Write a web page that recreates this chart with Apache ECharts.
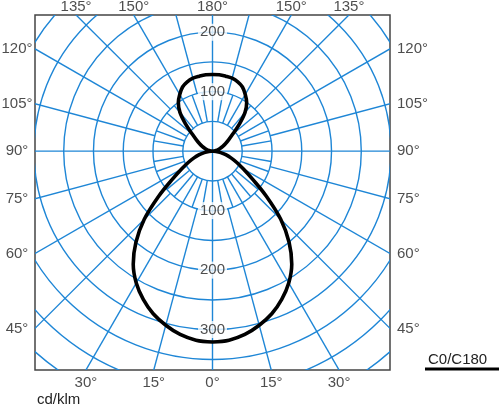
<!DOCTYPE html>
<html><head><meta charset="utf-8">
<script src="https://cdn.jsdelivr.net/npm/echarts@6/dist/echarts.min.js"></script>
<style>html,body{margin:0;padding:0;background:#fff}#c{width:500px;height:406px}</style>
</head><body><div id="c"></div>
<script>
// ---- data ----
const gammaAngles = [0,5,10,15,20,25,30,35,40,45,50,55,60,65,70,75,80,85,90,95,100,105,110,115,120,125,130,135,140,145,150,155,160,165,170,175,180];
const intensityC0C180 = [321,319,313,303,291,275,256,232,200,162,118,82,60,45,33,23,14,6,0,3,6,10,14,19,25,33,44,63,85,100,110,119,124,127,128,129,129];
const ringValues = [50,100,150,200,250,300,350,400,450,500];
const radiusLabelsUp = [100,200];
const radiusLabelsDown = [100,200,300];
const sideAngleLabels = [150,135,120,105,90,75,60,45,30,15];
const centerAngleLabels = [180,0];
const majorSpokeStep = 15;
const minorSpokeStep = 10;
const innerRing = 50, minorOuter = 100, spokeOuter = 700;
const seriesName = 'C0/C180';
const unitLabel = 'cd/klm';

// ---- extents (data units) ----
const X_MIN = -298, X_MAX = 298, Y_MIN = -368, Y_MAX = 229;
const BLUE = '#1e86d6';

function dir(g, side){ const r = g*Math.PI/180; return [side*Math.sin(r), -Math.cos(r)]; }

// curve: right side 0->180, then left side 180->0
const curve = [];
gammaAngles.forEach((g,i)=>{ const d=dir(g,1); curve.push([d[0]*intensityC0C180[i], d[1]*intensityC0C180[i]]); });
for (let i=gammaAngles.length-1;i>=0;i--){ const d=dir(gammaAngles[i],-1); curve.push([d[0]*intensityC0C180[i], d[1]*intensityC0C180[i]]); }

// spokes [angleDeg clockwise from down, r0, r1]
const spokes = [];
for (let a=0;a<360;a+=majorSpokeStep){ const axisLine = (a%90===0); spokes.push([a, axisLine?0:minorOuter, spokeOuter]); }
for (let a=0;a<360;a+=minorSpokeStep){ if (a%90!==0) spokes.push([a, innerRing, minorOuter]); }

// angle labels on frame
function frameHit(g, side){
  const d = dir(g, side);
  const tX = Math.abs(d[0])>1e-9 ? (d[0]>0 ? X_MAX/d[0] : X_MIN/d[0]) : Infinity;
  const tY = Math.abs(d[1])>1e-9 ? (d[1]>0 ? Y_MAX/d[1] : Y_MIN/d[1]) : Infinity;
  const t = Math.min(tX,tY);
  const edge = tX<tY ? (d[0]>0?'right':'left') : (d[1]>0?'top':'bottom');
  return {value:[d[0]*t, d[1]*t], edge, text: g+'°'};
}
const angleLabelItems = [];
sideAngleLabels.forEach(g=>{ angleLabelItems.push(frameHit(g,-1)); angleLabelItems.push(frameHit(g,1)); });
centerAngleLabels.forEach(g=>angleLabelItems.push(frameHit(g,1)));
const edgeLabel = {
  top:{position:'top',distance:1},
  bottom:{position:'bottom',distance:5},
  left:{position:'left',distance:18,align:'center'},
  right:{position:'right',distance:7}
};

const radiusLabelData = radiusLabelsUp.map(v=>({value:[0,v],name:String(v)}))
  .concat(radiusLabelsDown.map(v=>({value:[0,-v],name:String(v)})));

const chart = echarts.init(document.getElementById('c'));
const FONT = "'Liberation Sans', Arial, sans-serif";
chart.setOption({
  animation:false,
  backgroundColor:'#fff',
  grid:{left:35, top:15, width:355, height:355, show:true, borderColor:'#444', borderWidth:1.5, backgroundColor:'transparent'},
  xAxis:{type:'value', min:X_MIN, max:X_MAX, show:false},
  yAxis:{type:'value', min:Y_MIN, max:Y_MAX, show:false},
  series:[
    { type:'custom', clip:true, z:1, silent:true,
      data: ringValues.map(v=>[v]),
      renderItem:(params, api)=>{
        const c = api.coord([0,0]);
        const s = api.size([api.value(0), api.value(0)]);
        return {type:'circle', shape:{cx:c[0], cy:c[1], r:(s[0]+s[1])/2},
                style:{fill:null, stroke:BLUE, lineWidth:1.4}};
      }
    },
    { type:'custom', clip:true, z:1, silent:true,
      data: spokes,
      renderItem:(params, api)=>{
        const a = api.value(0), r0 = api.value(1), r1 = api.value(2);
        const rad = a*Math.PI/180; const dx = Math.sin(rad), dy = -Math.cos(rad);
        const p0 = api.coord([dx*r0, dy*r0]), p1 = api.coord([dx*r1, dy*r1]);
        return {type:'line', shape:{x1:p0[0], y1:p0[1], x2:p1[0], y2:p1[1]},
                style:{stroke:BLUE, lineWidth:1.4}};
      }
    },
    { type:'scatter', z:3, symbolSize:0, silent:true, clip:false,
      data: radiusLabelData,
      label:{show:true, position:'inside', formatter:p=>p.name, color:'#222', fontSize:15, fontFamily:FONT,
             backgroundColor:'#fff', padding:[1,2]}
    },
    { type:'line', name:seriesName, z:4, data:curve, smooth:0.35, symbol:'none', clip:true,
      lineStyle:{color:'#000', width:3.6, cap:'round', join:'round'} },
    { type:'scatter', z:5, symbolSize:0, silent:true, clip:false,
      data: angleLabelItems.map(it=>({value:it.value, name:it.text,
        label:Object.assign({show:true, formatter:it.text, color:'#222', fontSize:15, fontFamily:FONT}, edgeLabel[it.edge])}))
    }
  ],
  graphic:[
    {type:'text', left:37, top:392, style:{text:unitLabel, fill:'#222', font:"15px 'Liberation Sans', Arial, sans-serif"}},
    {type:'text', left:428, top:352, style:{text:seriesName, fill:'#222', font:"15px 'Liberation Sans', Arial, sans-serif"}},
    {type:'line', shape:{x1:425, y1:369, x2:499, y2:369}, style:{stroke:'#000', lineWidth:3}}
  ]
});
</script></body></html>
